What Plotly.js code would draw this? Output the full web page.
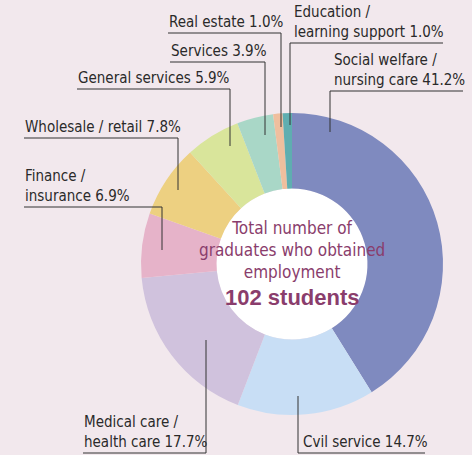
<!DOCTYPE html>
<html><head><meta charset="utf-8">
<script src="https://cdn.plot.ly/plotly-3.0.1.min.js"></script>
<style>html,body{margin:0;padding:0;background:#f2e8ed;}#chart{width:472px;height:455px;}</style>
</head><body><div id="chart"></div>
<script>
const categories = ["Social welfare / nursing care", "Cvil service", "Medical care / health care", "Finance / insurance", "Wholesale / retail", "General services", "Services", "Real estate", "Education / learning support"];
const shares = [41.2, 14.7, 17.7, 6.9, 7.8, 5.9, 3.9, 1.0, 1.0];
const labelTexts = ["Social welfare /<br>nursing care 41.2%", "Cvil service 14.7%", "Medical care /<br>health care 17.7%", "Finance /<br>insurance 6.9%", "Wholesale / retail 7.8%", "General services 5.9%", "Services 3.9%", "Real estate 1.0%", "Education /<br>learning support 1.0%"];
const colors = ["#7f8abf", "#c8def5", "#d0c2dd", "#e6b3c9", "#edd081", "#d9e59b", "#a9d7c7", "#efbf9e", "#5faeb0"];

const W = 472, H = 455;
const px = x => x / W, py = y => 1 - y / H;
const FONT = "'Liberation Sans Narrow', 'DejaVu Sans Condensed', Arial, sans-serif";

// pie geometry in pixels
const PX0 = 141, PX1 = 443, PY0 = 113, PY1 = 415, HOLE = 0.5;
const cx = (PX0 + PX1) / 2, cy = (PY0 + PY1) / 2, hr = (PX1 - PX0) / 2 * HOLE;

// label placement in pixels: [textLeft, underlineY, underlineX0, underlineX1, lineX, lineEndY]
const place = [
  [333, 91, 330, 463, 330, 132],
  [302, 453, 298, 425, 298, 396],
  [83, 453, 83, 206, 206, 340],
  [24, 207, 24, 162, 162, 250],
  [24, 138, 24, 178, 178, 190],
  [77, 89, 77, 230, 230, 146],
  [170, 62, 170, 265, 265, 135],
  [168, 33, 168, 281, 281, 127],
  [293, 43, 290, 443, 290, 125]
];

const annotations = [], shapes = [];
shapes.push({type:'circle', xref:'paper', yref:'paper', layer:'below',
  x0:px(cx-hr), x1:px(cx+hr), y0:py(cy+hr), y1:py(cy-hr), fillcolor:'#ffffff', line:{width:0}});
place.forEach((p, i) => {
  annotations.push({xref:'paper', yref:'paper', x:px(p[0]), y:py(p[1]-1), xanchor:'left', yanchor:'bottom',
    text: labelTexts[i], showarrow:false, align:'left', borderpad:0,
    font:{family:FONT, size:15, color:'#2a2a2a'}});
  shapes.push({type:'line', xref:'paper', yref:'paper', x0:px(p[2]), x1:px(p[3]), y0:py(p[1]), y1:py(p[1]), line:{color:'#333', width:1}});
  shapes.push({type:'line', xref:'paper', yref:'paper', x0:px(p[4]), x1:px(p[4]), y0:py(p[1]), y1:py(p[5]), line:{color:'#333', width:1}});
});

annotations.push({xref:'paper', yref:'paper', x:px(cx), y:py(250), xanchor:'center', yanchor:'middle', showarrow:false,
  text:"Total number of<br>graduates who obtained<br>employment", align:'center',
  font:{family:FONT, size:17, color:'#8a3d6c'}});
annotations.push({xref:'paper', yref:'paper', x:px(cx), y:py(297), xanchor:'center', yanchor:'middle', showarrow:false,
  text:"<b>102 students</b>", font:{family:"'Liberation Sans', Arial, sans-serif", size:22, color:'#8a3d6c'}});

const trace = {
  type:'pie', labels:categories, values:shares, sort:false, direction:'clockwise', rotation:0,
  hole:HOLE, textinfo:'none', hoverinfo:'label+value',
  marker:{colors:colors, line:{width:0}},
  domain:{x:[px(PX0), px(PX1)], y:[py(PY1), py(PY0)]}
};

Plotly.newPlot('chart', [trace], {
  width:W, height:H, margin:{l:0,r:0,t:0,b:0}, showlegend:false,
  paper_bgcolor:'#f2e8ed', plot_bgcolor:'#f2e8ed',
  shapes:shapes, annotations:annotations
}, {displayModeBar:false, staticPlot:true});
</script></body></html>
